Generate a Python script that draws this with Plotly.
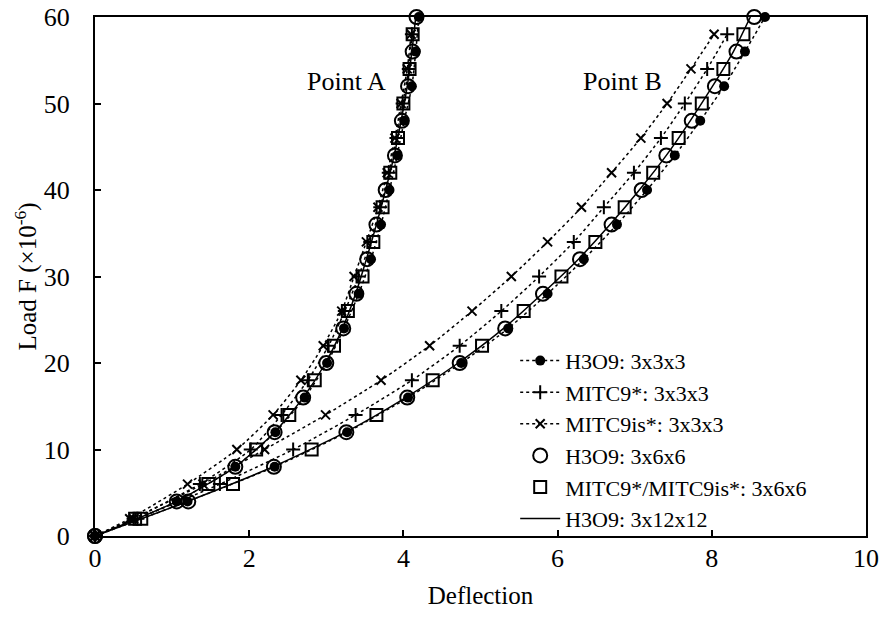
import plotly.graph_objects as go

# Loads
load_4 = [0, 4, 8, 12, 16, 20, 24, 28, 32, 36, 40, 44, 48, 52, 56, 60]
load_2 = [0, 2, 6, 10, 14, 18, 22, 26, 30, 34, 38, 42, 46, 50, 54, 58]
load_sq = [2, 6, 10, 14, 18, 22, 26, 30, 34, 38, 42, 46, 50, 54, 58]

# H3O9: 3x3x3 (filled circles)
h3_333_A = [0, 1.06, 1.82, 2.34, 2.72, 3.01, 3.23, 3.42, 3.58, 3.71, 3.82, 3.92, 4.01, 4.11, 4.16, 4.20]
h3_333_B = [0, 1.20, 2.33, 3.27, 4.06, 4.75, 5.36, 5.87, 6.34, 6.77, 7.16, 7.52, 7.85, 8.16, 8.43, 8.69]
# MITC9*: 3x3x3 (+)
mitc_333_A = [0, 0.50, 1.36, 2.02, 2.42, 2.76, 3.03, 3.24, 3.42, 3.57, 3.70, 3.81, 3.91, 3.99, 4.07, 4.11]
mitc_333_B = [0, 0.55, 1.62, 2.57, 3.38, 4.11, 4.73, 5.27, 5.76, 6.21, 6.60, 6.99, 7.34, 7.65, 7.94, 8.20]
# MITC9is*: 3x3x3 (x)
mitcis_333_A = [0, 0.45, 1.20, 1.84, 2.31, 2.67, 2.96, 3.20, 3.36, 3.52, 3.67, 3.79, 3.89, 3.97, 4.05, 4.10]
mitcis_333_B = [0, 0.50, 1.40, 2.20, 2.99, 3.71, 4.34, 4.89, 5.40, 5.87, 6.31, 6.70, 7.08, 7.42, 7.73, 8.03]
# H3O9: 3x6x6 (open circles)
h3_366_A = [0, 1.06, 1.82, 2.33, 2.70, 3.00, 3.22, 3.39, 3.53, 3.65, 3.77, 3.89, 3.98, 4.06, 4.12, 4.17]
h3_366_B = [0, 1.21, 2.32, 3.26, 4.05, 4.73, 5.32, 5.81, 6.29, 6.70, 7.09, 7.41, 7.74, 8.04, 8.32, 8.55]
# MITC9*/MITC9is*: 3x6x6 (open squares)
mitc_366_A = [0.52, 1.47, 2.09, 2.52, 2.85, 3.10, 3.28, 3.47, 3.61, 3.73, 3.83, 3.93, 4.00, 4.08, 4.12]
mitc_366_B = [0.60, 1.79, 2.81, 3.65, 4.38, 5.02, 5.56, 6.05, 6.49, 6.87, 7.24, 7.57, 7.87, 8.15, 8.41]
# H3O9: 3x12x12 (solid line)
h3_31212_A = [0, 1.06, 1.82, 2.33, 2.70, 2.99, 3.21, 3.38, 3.52, 3.65, 3.77, 3.88, 3.97, 4.05, 4.11, 4.16]
h3_31212_B = [0, 1.20, 2.31, 3.25, 4.03, 4.71, 5.30, 5.80, 6.27, 6.68, 7.06, 7.41, 7.72, 8.01, 8.28, 8.50]

names = ["H3O9: 3x3x3", "MITC9*: 3x3x3", "MITC9is*: 3x3x3",
         "H3O9: 3x6x6", "MITC9*/MITC9is*: 3x6x6", "H3O9: 3x12x12"]

FONT = "Liberation Serif, Times New Roman, serif"


def join(a, b, loads):
    return list(a) + [None] + list(b), list(loads) + [None] + list(loads)


fig = go.Figure()

# solid line first (underneath)
x, y = join(h3_31212_A, h3_31212_B, load_4)
fig.add_trace(go.Scatter(x=x, y=y, mode="lines", name=names[5], legendrank=6, cliponaxis=False,
                         line=dict(color="black", width=1.5, shape="spline", smoothing=0.6)))

x, y = join(mitcis_333_A, mitcis_333_B, load_2)
fig.add_trace(go.Scatter(x=x, y=y, mode="lines+markers", name=names[2], legendrank=3, cliponaxis=False,
                         line=dict(color="black", width=1.5, dash="dot", shape="spline", smoothing=0.6),
                         marker=dict(symbol="x-thin", size=9, line=dict(color="black", width=2))))

x, y = join(mitc_333_A, mitc_333_B, load_2)
fig.add_trace(go.Scatter(x=x, y=y, mode="lines+markers", name=names[1], legendrank=2, cliponaxis=False,
                         line=dict(color="black", width=1.5, dash="dot", shape="spline", smoothing=0.6),
                         marker=dict(symbol="cross-thin", size=10, line=dict(color="black", width=2))))

x, y = join(h3_333_A, h3_333_B, load_4)
fig.add_trace(go.Scatter(x=x, y=y, mode="lines+markers", name=names[0], legendrank=1, cliponaxis=False,
                         line=dict(color="black", width=1.5, dash="dot", shape="spline", smoothing=0.6),
                         marker=dict(symbol="circle", size=10, color="black")))

x, y = join(h3_366_A, h3_366_B, load_4)
fig.add_trace(go.Scatter(x=x, y=y, mode="markers", name=names[3], legendrank=4, cliponaxis=False,
                         marker=dict(symbol="circle-open", size=14, color="black", line=dict(width=2))))

x, y = join(mitc_366_A, mitc_366_B, load_sq)
fig.add_trace(go.Scatter(x=x, y=y, mode="markers", name=names[4], legendrank=5, cliponaxis=False,
                         marker=dict(symbol="square-open", size=12, color="black", line=dict(width=2))))

fig.add_annotation(x=3.26, y=52.5, text="Point A", showarrow=False,
                   font=dict(family=FONT, size=26, color="black"))
fig.add_annotation(x=6.84, y=52.5, text="Point B", showarrow=False,
                   font=dict(family=FONT, size=26, color="black"))

axis_common = dict(showline=True, linecolor="black", linewidth=2, mirror=True,
                   ticks="inside", ticklen=6, tickwidth=1.5, tickcolor="black",
                   showgrid=False, zeroline=False, automargin=False,
                   tickfont=dict(family=FONT, size=26, color="black"))

fig.update_xaxes(range=[0, 10], dtick=2,
                 title=dict(text="Deflection", font=dict(family=FONT, size=25, color="black"), standoff=14),
                 ticklabelstandoff=-2, **axis_common)
fig.update_yaxes(range=[0, 60], dtick=10,
                 title=dict(text="Load F (×10<sup>-6</sup>)", font=dict(family=FONT, size=25, color="black"), standoff=0),
                 ticklabelstandoff=18, **axis_common)

fig.update_layout(
    width=887, height=617,
    margin=dict(l=95, r=21, t=17, b=81),
    plot_bgcolor="white", paper_bgcolor="white",
    showlegend=True,
    legend=dict(x=0.545, y=0.378, xanchor="left", yanchor="top",
                bgcolor="rgba(0,0,0,0)", font=dict(family=FONT, size=22, color="black"),
                tracegroupgap=0, itemwidth=40),
)

fig.write_html("out.html", config={"displayModeBar": False},
               post_script="document.body.style.margin='0';")
